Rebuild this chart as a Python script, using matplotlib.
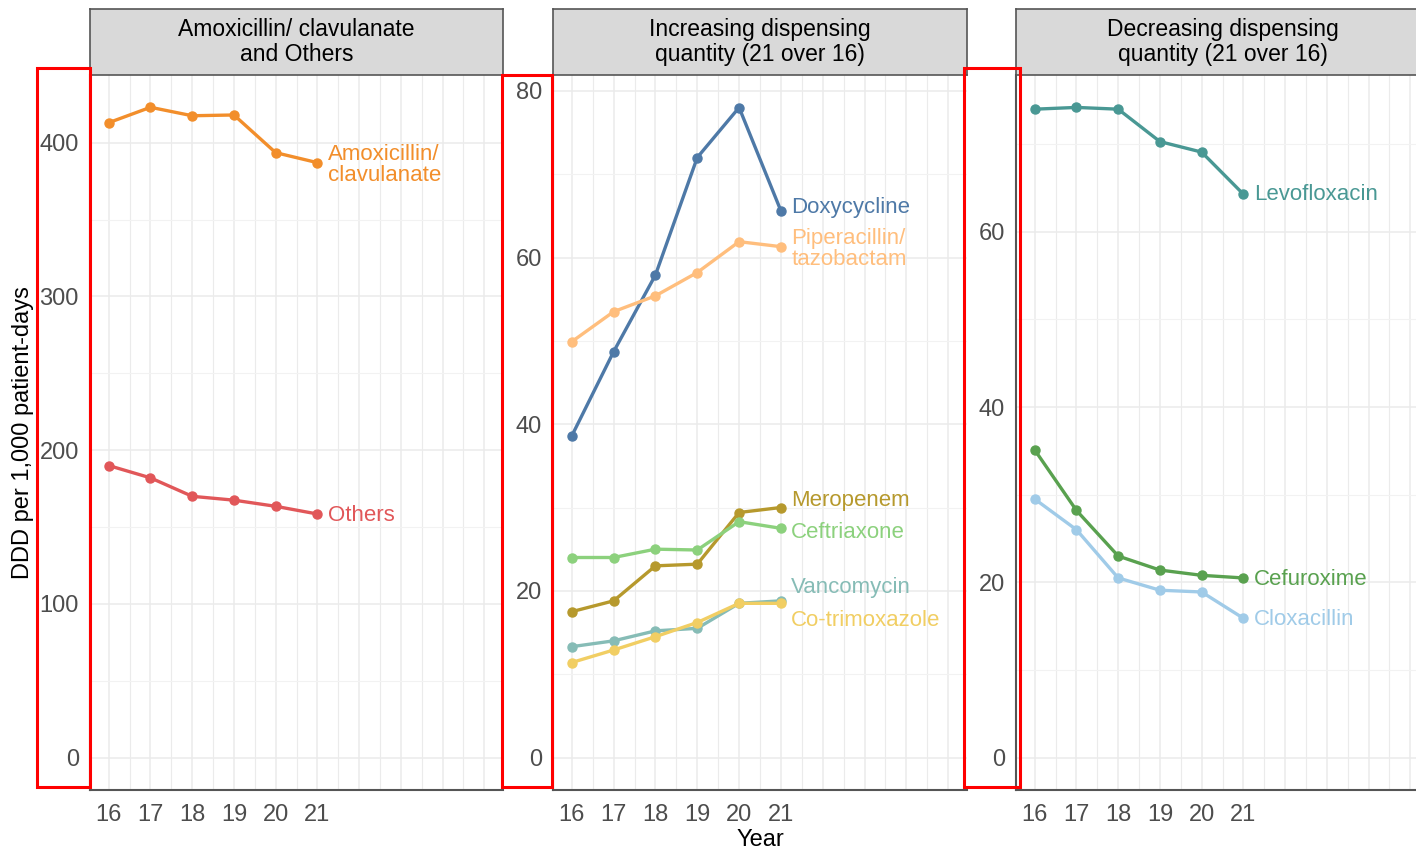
import matplotlib
matplotlib.use("Agg")
import matplotlib.pyplot as plt
from matplotlib.patches import Rectangle
import numpy as np

plt.rcParams['font.family'] = ['Liberation Sans', 'DejaVu Sans']

#%% Data
years = [16, 17, 18, 19, 20, 21]

facet_titles = ["Amoxicillin/ clavulanate\nand Others",
                "Increasing dispensing\nquantity (21 over 16)",
                "Decreasing dispensing\nquantity (21 over 16)"]

# panel 1
amox = [413, 423, 417.5, 418, 393.5, 387]
others = [190, 182, 170, 167.5, 163.5, 158.5]
# panel 2
doxy = [38.6, 48.7, 57.9, 72.0, 78.0, 65.6]
pip = [49.9, 53.5, 55.4, 58.2, 61.9, 61.3]
mero = [17.5, 18.8, 23.0, 23.2, 29.4, 30.0]
ceft = [24.0, 24.0, 25.0, 24.9, 28.3, 27.5]
vanc = [13.3, 14.0, 15.2, 15.5, 18.5, 18.8]
cotrim = [11.4, 12.9, 14.5, 16.2, 18.5, 18.5]
# panel 3
levo = [74.0, 74.2, 74.0, 70.3, 69.1, 64.3]
cefur = [35.1, 28.2, 23.0, 21.4, 20.8, 20.5]
clox = [29.5, 26.0, 20.5, 19.1, 18.9, 15.9]

# (name, values, colour, label text, label y after repel)
panels = [
    [("Amoxicillin/ clavulanate", amox, "#F28E2B", "Amoxicillin/\nclavulanate", 385.7),
     ("Others", others, "#E15759", "Others", 157.8)],
    [("Doxycycline", doxy, "#4E79A7", "Doxycycline", 66.0),
     ("Piperacillin/ tazobactam", pip, "#FFBE7D", "Piperacillin/\ntazobactam", 61.0),
     ("Meropenem", mero, "#B6992D", "Meropenem", 30.9),
     ("Ceftriaxone", ceft, "#8CD17D", "Ceftriaxone", 27.0),
     ("Vancomycin", vanc, "#86BCB6", "Vancomycin", 20.4),
     ("Co-trimoxazole", cotrim, "#F1CE63", "Co-trimoxazole", 16.5)],
    [("Levofloxacin", levo, "#499894", "Levofloxacin", 64.3),
     ("Cefuroxime", cefur, "#59A14F", "Cefuroxime", 20.3),
     ("Cloxacillin", clox, "#A0CBE8", "Cloxacillin", 15.8)],
]

y_limits = [(-21, 444), (-3.9, 81.9), (-3.7, 77.9)]
y_major = [np.arange(0, 401, 100), np.arange(0, 81, 20), np.arange(0, 61, 20)]
y_minor = [np.arange(50, 451, 100), np.arange(10, 81, 20), np.arange(10, 78, 20)]

#%% Layout in pixels
W, H = 1416, 848
def rect(x0, y0, x1, y1):
    return [x0 / W, 1 - y1 / H, (x1 - x0) / W, (y1 - y0) / H]

panel_x = [(90, 503), (553, 967), (1016, 1429)]
top, bottom, strip_top = 75, 790, 9

fig = plt.figure(figsize=(W / 100, H / 100), dpi=100)

for i in range(3):
    x0, x1 = panel_x[i]
    ax = fig.add_axes(rect(x0, top, x1, bottom))
    ax.set_xlim(15.55, 25.45)
    ax.set_ylim(*y_limits[i])

    for gx in np.arange(16, 25.01, 0.5):
        ax.axvline(gx, color="#EBEBEB", lw=1.1 if gx == int(gx) else 0.8, zorder=0)
    for gy in y_major[i]:
        ax.axhline(gy, color="#EBEBEB", lw=1.1, zorder=0)
    for gy in y_minor[i]:
        ax.axhline(gy, color="#F2F2F2", lw=0.8, zorder=0)

    for name, vals, col, lab, lab_y in panels[i]:
        ax.plot(years, vals, color=col, lw=2.4, marker="o", ms=6.5, zorder=3)
        ax.text(21.25, lab_y, lab, color=col, fontsize=16, ha="left", va="center",
                linespacing=1.0, zorder=4)

    ax.set_xticks(years)
    ax.set_xticklabels([str(y) for y in years])
    ax.set_yticks(y_major[i])
    ax.tick_params(axis="both", length=0, labelsize=17, labelcolor="#4D4D4D")
    ax.tick_params(axis="x", pad=10)
    ax.tick_params(axis="y", pad=8)
    for s in ["top", "right"]:
        ax.spines[s].set_visible(False)
    for s in ["left", "bottom"]:
        ax.spines[s].set_color("#555555")
        ax.spines[s].set_linewidth(1.5)

    if i == 0:
        ax.set_ylabel("DDD per 1,000 patient-days", fontsize=17, labelpad=4)
    if i == 1:
        ax.set_xlabel("Year", fontsize=17, labelpad=2)

    # facet strip
    sax = fig.add_axes(rect(x0, strip_top, x1, top))
    sax.set_facecolor("#D9D9D9")
    sax.set_xticks([])
    sax.set_yticks([])
    for s in sax.spines.values():
        s.set_color("#555555")
        s.set_linewidth(1.2)
    sax.text(0.5, 0.5, facet_titles[i], transform=sax.transAxes, ha="center",
             va="center", fontsize=16.5, linespacing=1.1)

# red highlight boxes around the y tick labels
for bx0, by0, bx1, by1 in [(37, 68, 90, 787), (502, 75, 552, 787), (964, 68, 1020, 787)]:
    fig.patches.append(Rectangle((bx0 / W, 1 - by1 / H), (bx1 - bx0) / W, (by1 - by0) / H,
                                 transform=fig.transFigure, fill=False,
                                 edgecolor="red", lw=2.2, zorder=10))

fig.savefig("out.png", dpi=100)
